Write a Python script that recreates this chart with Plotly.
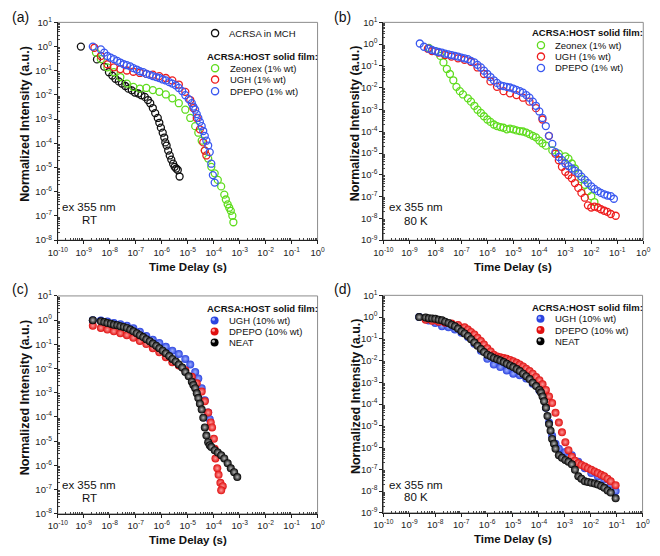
import plotly.graph_objects as go

W, H = 660, 556

# ---------------- data: (log10 time [s], log10 normalized intensity) ----------------
# panel (a)  ex 355 nm, RT
a_mch = [(-9.11, 0.00), (-8.49, -0.53), (-8.21, -0.83), (-8.03, -1.06), (-7.90, -1.20), (-7.78, -1.33),
         (-7.65, -1.44), (-7.53, -1.53), (-7.40, -1.63), (-7.28, -1.74), (-7.15, -1.81), (-7.03, -1.90),
         (-6.90, -1.94), (-6.78, -2.01), (-6.65, -2.08), (-6.53, -2.21), (-6.44, -2.34), (-6.34, -2.54),
         (-6.25, -2.75), (-6.15, -2.95), (-6.09, -3.15), (-6.03, -3.35), (-5.96, -3.56), (-5.90, -3.76),
         (-5.86, -3.96), (-5.81, -4.09), (-5.75, -4.30), (-5.69, -4.50), (-5.63, -4.67), (-5.56, -4.84),
         (-5.50, -4.97), (-5.44, -5.04), (-5.38, -5.10), (-5.31, -5.37)]
a_zeonex = [(-8.53, -0.25), (-8.34, -0.52), (-8.09, -0.86), (-7.84, -1.06), (-7.59, -1.26), (-7.34, -1.53),
            (-7.09, -1.67), (-6.84, -1.74), (-6.59, -1.71), (-6.34, -1.80), (-6.09, -1.87), (-5.84, -1.98),
            (-5.59, -2.14), (-5.34, -2.34), (-5.09, -2.61), (-4.90, -2.95), (-4.71, -3.29), (-4.59, -3.56),
            (-4.46, -3.89), (-4.34, -4.30), (-4.21, -4.63), (-4.09, -4.97), (-3.96, -5.24), (-3.84, -5.51),
            (-3.71, -5.78), (-3.59, -6.12), (-3.53, -6.32), (-3.46, -6.52), (-3.40, -6.66), (-3.34, -6.79),
            (-3.28, -6.99), (-3.24, -7.26)]
a_ugh = [(-8.59, -0.05), (-8.34, -0.39), (-8.09, -0.73), (-7.84, -0.86), (-7.59, -0.93), (-7.34, -0.99),
         (-7.09, -1.04), (-6.84, -1.09), (-6.59, -1.13), (-6.34, -1.16), (-6.09, -1.22), (-5.84, -1.30),
         (-5.59, -1.40), (-5.34, -1.57), (-5.09, -1.87), (-4.90, -2.21), (-4.78, -2.54), (-4.65, -2.95),
         (-4.53, -3.42), (-4.40, -3.96), (-4.34, -4.30), (-4.28, -4.50)]
a_dpepo = [(-8.65, 0.00), (-8.34, -0.12), (-8.21, -0.25), (-8.09, -0.39), (-7.96, -0.46), (-7.84, -0.52),
           (-7.71, -0.59), (-7.59, -0.66), (-7.46, -0.73), (-7.34, -0.77), (-7.21, -0.82), (-7.09, -0.89),
           (-6.96, -0.95), (-6.84, -1.02), (-6.71, -1.06), (-6.59, -1.13), (-6.46, -1.17), (-6.34, -1.22),
           (-6.21, -1.26), (-6.09, -1.30), (-5.96, -1.36), (-5.84, -1.40), (-5.71, -1.47), (-5.59, -1.53),
           (-5.46, -1.60), (-5.34, -1.71), (-5.21, -1.84), (-5.09, -2.01), (-4.96, -2.17), (-4.84, -2.34),
           (-4.78, -2.48), (-4.71, -2.61), (-4.65, -2.79), (-4.59, -2.95), (-4.53, -3.11), (-4.46, -3.29),
           (-4.40, -3.49), (-4.34, -3.69), (-4.28, -3.89), (-4.21, -4.09), (-4.15, -4.36), (-4.09, -4.84),
           (-4.03, -5.31), (-3.96, -5.62)]

# panel (b)  ex 355 nm, 80 K
b_zeonex = [(-8.25, -0.17), (-8.00, -0.32), (-7.81, -0.54), (-7.69, -0.84), (-7.56, -1.14), (-7.44, -1.37),
            (-7.31, -1.66), (-7.19, -1.96), (-7.06, -2.16), (-6.94, -2.31), (-6.75, -2.49), (-6.63, -2.64),
            (-6.50, -2.83), (-6.38, -3.01), (-6.25, -3.16), (-6.13, -3.31), (-6.00, -3.46), (-5.88, -3.57),
            (-5.75, -3.69), (-5.63, -3.76), (-5.50, -3.81), (-5.38, -3.84), (-5.25, -3.91), (-5.13, -3.88),
            (-5.00, -3.91), (-4.88, -3.96), (-4.75, -3.99), (-4.63, -4.01), (-4.50, -4.06), (-4.38, -4.13),
            (-4.25, -4.21), (-4.13, -4.28), (-4.00, -4.43), (-3.88, -4.55), (-3.75, -4.66), (-3.50, -4.88),
            (-3.25, -5.03), (-3.00, -5.15), (-2.88, -5.26), (-2.75, -5.48), (-2.63, -5.71), (-2.50, -5.93),
            (-2.38, -6.20), (-2.25, -6.46), (-2.13, -6.75), (-2.00, -6.98), (-1.88, -7.25)]
b_ugh = [(-8.29, -0.21), (-8.13, -0.32), (-7.88, -0.39), (-7.63, -0.50), (-7.38, -0.57), (-7.13, -0.65),
         (-6.88, -0.72), (-6.63, -0.81), (-6.38, -1.07), (-6.13, -1.37), (-5.88, -1.71), (-5.63, -1.96),
         (-5.38, -2.16), (-5.13, -2.26), (-4.88, -2.34), (-4.63, -2.46), (-4.38, -2.64), (-4.13, -2.94),
         (-3.88, -3.46), (-3.63, -4.21), (-3.38, -5.03), (-3.25, -5.33), (-3.13, -5.63), (-3.00, -5.86),
         (-2.88, -6.01), (-2.75, -6.16), (-2.63, -6.38), (-2.50, -6.60), (-2.38, -6.83), (-2.25, -7.05),
         (-2.13, -7.40), (-2.00, -7.50), (-1.88, -7.46), (-1.75, -7.50), (-1.63, -7.58), (-1.50, -7.65),
         (-1.38, -7.70), (-1.25, -7.80), (-1.06, -7.88)]
b_dpepo = [(-8.60, 0.03), (-8.44, -0.12), (-8.25, -0.21), (-8.13, -0.27), (-8.00, -0.32), (-7.88, -0.36),
           (-7.75, -0.39), (-7.63, -0.44), (-7.50, -0.47), (-7.38, -0.50), (-7.25, -0.54), (-7.13, -0.57),
           (-7.00, -0.62), (-6.88, -0.65), (-6.75, -0.69), (-6.63, -0.77), (-6.50, -0.84), (-6.38, -0.95),
           (-6.25, -1.07), (-6.13, -1.22), (-6.00, -1.37), (-5.88, -1.51), (-5.75, -1.66), (-5.63, -1.78),
           (-5.50, -1.89), (-5.38, -1.93), (-5.25, -1.96), (-5.13, -1.99), (-5.00, -2.04), (-4.88, -2.10),
           (-4.75, -2.16), (-4.63, -2.23), (-4.50, -2.34), (-4.38, -2.46), (-4.25, -2.64), (-4.13, -2.83),
           (-4.00, -3.09), (-3.88, -3.39), (-3.75, -3.76), (-3.63, -4.21), (-3.50, -4.58), (-3.38, -4.96),
           (-3.25, -5.18), (-3.13, -5.33), (-3.00, -5.48), (-2.88, -5.60), (-2.75, -5.71), (-2.63, -5.81),
           (-2.50, -5.93), (-2.38, -6.08), (-2.25, -6.23), (-2.13, -6.38), (-2.00, -6.53), (-1.88, -6.65),
           (-1.75, -6.75), (-1.63, -6.83), (-1.50, -6.90), (-1.38, -6.95), (-1.25, -6.98), (-1.13, -7.10)]

# panel (c)  ex 355 nm, RT, 10% wt films and neat
c_ugh = [(-8.65, 0.00), (-8.34, -0.02), (-8.09, -0.06), (-7.84, -0.12), (-7.59, -0.17), (-7.34, -0.23),
         (-7.09, -0.33), (-6.84, -0.48), (-6.59, -0.66), (-6.34, -0.81), (-6.09, -0.94), (-5.84, -1.10),
         (-5.59, -1.26), (-5.34, -1.40), (-5.09, -1.60), (-4.90, -1.83), (-4.71, -2.14), (-4.59, -2.41),
         (-4.46, -2.81), (-4.34, -3.31), (-4.21, -3.82), (-4.15, -4.09)]
c_dpepo = [(-8.65, -0.23), (-8.34, -0.32), (-8.09, -0.39), (-7.84, -0.46), (-7.59, -0.54), (-7.34, -0.62),
           (-7.09, -0.73), (-6.84, -0.86), (-6.59, -0.99), (-6.34, -1.16), (-6.09, -1.33), (-5.84, -1.53),
           (-5.59, -1.74), (-5.34, -1.87), (-5.09, -2.07), (-4.84, -2.34), (-4.65, -2.61), (-4.46, -2.95),
           (-4.34, -3.35), (-4.21, -3.82), (-4.11, -4.23), (-4.06, -4.43), (-3.99, -4.90), (-3.96, -5.31),
           (-3.93, -5.71), (-3.86, -6.12), (-3.81, -6.39), (-3.74, -6.72), (-3.65, -6.86), (-3.71, -7.03)]
c_neat = [(-8.65, 0.00), (-8.34, -0.05), (-8.21, -0.08), (-8.09, -0.12), (-7.96, -0.15), (-7.84, -0.19),
          (-7.71, -0.21), (-7.59, -0.25), (-7.46, -0.28), (-7.34, -0.32), (-7.21, -0.39), (-7.09, -0.46),
          (-6.96, -0.54), (-6.84, -0.62), (-6.71, -0.70), (-6.59, -0.79), (-6.46, -0.87), (-6.34, -0.97),
          (-6.21, -1.06), (-6.09, -1.16), (-5.96, -1.26), (-5.84, -1.37), (-5.71, -1.48), (-5.59, -1.60),
          (-5.46, -1.71), (-5.34, -1.83), (-5.21, -1.96), (-5.09, -2.14), (-4.96, -2.32), (-4.84, -2.54),
          (-4.78, -2.68), (-4.71, -2.81), (-4.65, -3.02), (-4.59, -3.22), (-4.53, -3.45), (-4.46, -3.69),
          (-4.40, -4.03), (-4.34, -4.43), (-4.28, -4.77), (-4.21, -5.04), (-4.15, -5.17), (-4.09, -5.24),
          (-3.96, -5.37), (-3.84, -5.47), (-3.71, -5.58), (-3.59, -5.71), (-3.46, -5.91), (-3.34, -6.12),
          (-3.21, -6.28), (-3.09, -6.48)]

# panel (d)  ex 355 nm, 80 K, 10% wt films and neat
d_ugh = [(-8.62, 0.00), (-8.25, -0.16), (-8.00, -0.27), (-7.74, -0.42), (-7.49, -0.47), (-7.24, -0.57),
         (-6.99, -0.72), (-6.74, -0.92), (-6.49, -1.22), (-6.24, -1.55), (-5.99, -1.92), (-5.74, -2.18),
         (-5.49, -2.30), (-5.24, -2.45), (-4.99, -2.60), (-4.74, -2.67), (-4.49, -2.82), (-4.24, -3.07),
         (-3.98, -3.37), (-3.73, -4.17), (-3.61, -4.85), (-3.49, -5.45), (-3.36, -5.82), (-3.23, -6.05),
         (-2.98, -6.20), (-2.73, -6.35), (-2.48, -6.65), (-2.23, -6.95), (-1.98, -7.17), (-1.73, -7.32),
         (-1.48, -7.47), (-1.23, -7.70), (-1.04, -8.00)]
d_dpepo = [(-8.37, -0.12), (-8.12, -0.17), (-7.87, -0.21), (-7.62, -0.26), (-7.37, -0.30), (-7.12, -0.36),
           (-6.87, -0.47), (-6.74, -0.57), (-6.62, -0.68), (-6.49, -0.80), (-6.37, -0.95), (-6.24, -1.10),
           (-6.12, -1.26), (-5.99, -1.43), (-5.86, -1.58), (-5.74, -1.73), (-5.61, -1.81), (-5.49, -1.85),
           (-5.36, -1.88), (-5.24, -1.92), (-5.11, -1.97), (-4.99, -2.03), (-4.86, -2.10), (-4.74, -2.18),
           (-4.61, -2.27), (-4.49, -2.37), (-4.36, -2.48), (-4.24, -2.60), (-4.11, -2.75), (-3.98, -2.90),
           (-3.86, -3.09), (-3.73, -3.35), (-3.61, -3.65), (-3.49, -3.95), (-3.36, -4.40), (-3.23, -4.85),
           (-3.11, -5.30), (-2.98, -5.75), (-2.86, -6.12), (-2.73, -6.42), (-2.61, -6.60), (-2.48, -6.72),
           (-2.36, -6.80), (-2.23, -6.87), (-2.11, -6.95), (-1.98, -7.02), (-1.85, -7.10), (-1.73, -7.17),
           (-1.60, -7.25), (-1.48, -7.32), (-1.35, -7.43), (-1.23, -7.55), (-1.04, -7.73)]
d_neat = [(-8.62, 0.00), (-8.37, -0.02), (-8.25, -0.05), (-8.12, -0.06), (-8.00, -0.08), (-7.87, -0.12),
          (-7.74, -0.15), (-7.62, -0.21), (-7.49, -0.27), (-7.37, -0.35), (-7.24, -0.42), (-7.12, -0.53),
          (-6.99, -0.65), (-6.87, -0.75), (-6.74, -0.87), (-6.62, -1.02), (-6.49, -1.17), (-6.37, -1.32),
          (-6.24, -1.47), (-6.12, -1.61), (-5.99, -1.73), (-5.86, -1.80), (-5.74, -1.88), (-5.61, -1.94),
          (-5.49, -2.00), (-5.36, -2.07), (-5.24, -2.15), (-5.11, -2.22), (-4.99, -2.30), (-4.86, -2.39),
          (-4.74, -2.48), (-4.61, -2.60), (-4.49, -2.72), (-4.36, -2.85), (-4.24, -3.02), (-4.11, -3.17),
          (-3.98, -3.35), (-3.92, -3.47), (-3.86, -3.65), (-3.80, -3.87), (-3.73, -4.17), (-3.67, -4.55),
          (-3.61, -4.92), (-3.55, -5.22), (-3.49, -5.60), (-3.42, -5.82), (-3.36, -6.05), (-3.23, -6.35),
          (-3.11, -6.47), (-2.98, -6.57), (-2.86, -6.65), (-2.73, -6.77), (-2.61, -7.02), (-2.48, -7.32),
          (-2.36, -7.43), (-2.23, -7.55), (-2.11, -7.58), (-1.98, -7.62), (-1.85, -7.65), (-1.73, -7.70),
          (-1.60, -7.77), (-1.48, -7.85), (-1.35, -7.97), (-1.23, -8.07), (-1.04, -8.33)]

# tick exponents
x_exps = list(range(-10, 1))
y_exps_ac = list(range(-8, 2))
y_exps_bd = list(range(-9, 2))

# ---------------- styling ----------------
GREEN = "#5fdc1e"
RED = "#ee1c1c"
BLUE = "#3a58f0"
BLACK = "#111111"
FONT = "Liberation Sans"


def px(x):
    return x / W


def py(y):
    return 1 - y / H


def unzip(pairs):
    return [10 ** p[0] for p in pairs], [10 ** p[1] for p in pairs]


fig = go.Figure()


def open_trace(pairs, color, ax):
    t, v = unzip(pairs)
    fig.add_trace(go.Scatter(x=t, y=v, mode="markers", xaxis="x" + ax, yaxis="y" + ax, showlegend=False,
                             marker=dict(symbol="circle-open", size=7, color=color, line=dict(width=1.3, color=color))))


def ball_trace(pairs, color, center, ax):
    t, v = unzip(pairs)
    fig.add_trace(go.Scatter(x=t, y=v, mode="markers", xaxis="x" + ax, yaxis="y" + ax, showlegend=False,
                             marker=dict(symbol="circle", size=8, color=color,
                                         gradient=dict(type="radial", color=center),
                                         line=dict(width=0))))


open_trace(a_mch, BLACK, "")
open_trace(a_zeonex, GREEN, "")
open_trace(a_ugh, RED, "")
open_trace(a_dpepo, BLUE, "")

open_trace(b_zeonex, GREEN, "2")
open_trace(b_ugh, RED, "2")
open_trace(b_dpepo, BLUE, "2")

ball_trace(c_ugh, "#2b44e0", "#9fb0ff", "3")
ball_trace(c_dpepo, "#e01010", "#ff9a9a", "3")
ball_trace(c_neat, "#000000", "#b8b8b8", "3")

ball_trace(d_ugh, "#2b44e0", "#9fb0ff", "4")
ball_trace(d_dpepo, "#e01010", "#ff9a9a", "4")
ball_trace(d_neat, "#000000", "#b8b8b8", "4")

# panel geometry in pixels: (left, right, top, bottom)
panels = {
    "": (49.0, 315.7, 15.7, 238.3, y_exps_ac),
    "2": (383.3, 650.0, 15.7, 238.3, y_exps_bd),
    "3": (49.0, 315.7, 295.3, 518.0, y_exps_ac),
    "4": (383.3, 649.3, 294.7, 517.0, y_exps_bd),
}

tickfont = dict(family=FONT, size=9.5, color="#222")
layout = {}
shapes = []
for ax, (l, r, t, b, yexps) in panels.items():
    layout["xaxis" + ax] = dict(
        type="log", range=[x_exps[0], x_exps[-1]], domain=[px(l), px(r)], anchor="y" + ax,
        tickmode="array", tickvals=[10.0 ** e for e in x_exps],
        ticktext=["10<sup>%d</sup>" % e for e in x_exps],
        ticks="outside", ticklen=3, tickwidth=1, tickcolor="#222",
        showline=True, linecolor="#222", linewidth=1, showgrid=False, zeroline=False,
        tickfont=tickfont,
        minor=dict(tickvals=[m * 10.0 ** e for e in x_exps[:-1] for m in range(2, 10)],
                   ticks="inside", ticklen=2, tickcolor="#444", tickwidth=0.8, showgrid=False),
    )
    layout["yaxis" + ax] = dict(
        type="log", range=[yexps[0], yexps[-1]], domain=[py(b), py(t)], anchor="x" + ax,
        tickmode="array", tickvals=[10.0 ** e for e in yexps],
        ticktext=["10<sup>%d</sup>" % e for e in yexps],
        ticks="outside", ticklen=3, tickwidth=1, tickcolor="#222",
        showline=True, linecolor="#222", linewidth=1, showgrid=False, zeroline=False,
        tickfont=tickfont,
        minor=dict(tickvals=[m * 10.0 ** e for e in yexps[:-1] for m in range(2, 10)],
                   ticks="inside", ticklen=2, tickcolor="#444", tickwidth=0.8, showgrid=False),
    )
    shapes.append(dict(type="rect", xref="x%s domain" % ax, yref="y%s domain" % ax,
                       x0=0, x1=1, y0=0, y1=1, line=dict(color="#8c8c8c", width=1), layer="below"))

annotations = []


def text(x, y, s, size, anchor="left", angle=0):
    annotations.append(dict(x=px(x), y=py(y), xref="paper", yref="paper", text=s, showarrow=False,
                            xanchor=anchor, yanchor="middle", textangle=angle,
                            font=dict(family=FONT, size=size, color="#111")))


def open_sym(cx, cy, color):
    shapes.append(dict(type="circle", xref="paper", yref="paper", xsizemode="pixel", ysizemode="pixel",
                       xanchor=px(cx), yanchor=py(cy), x0=-3.6, x1=3.6, y0=-3.6, y1=3.6,
                       line=dict(color=color, width=1.3), fillcolor="rgba(0,0,0,0)"))


def ball_sym(cx, cy, color, hl):
    shapes.append(dict(type="circle", xref="paper", yref="paper", xsizemode="pixel", ysizemode="pixel",
                       xanchor=px(cx), yanchor=py(cy), x0=-4, x1=4, y0=-4, y1=4,
                       line=dict(width=0), fillcolor=color))
    shapes.append(dict(type="circle", xref="paper", yref="paper", xsizemode="pixel", ysizemode="pixel",
                       xanchor=px(cx), yanchor=py(cy), x0=-2.6, x1=0.4, y0=-0.4, y1=2.6,
                       line=dict(width=0), fillcolor=hl))


HEADER = "<b>ACRSA:HOST solid film:</b>"

# panel labels
for lx, ly, lab in [(0, 10, "(a)"), (330, 10, "(b)"), (0, 288, "(c)"), (330, 288, "(d)")]:
    text(lx, ly, lab, 14)

# axis titles
for (l, r, t, b, _), yx in zip(panels.values(), [15.7, 355.0, 15.7, 355.0]):
    text((l + r) / 2, b + 27, "<b>Time Delay (s)</b>", 11.5, anchor="center")
    text(yx, (t + b) / 2 - 8, "<b>Normalized Intensity (a.u.)</b>", 12.5, anchor="center", angle=-90)

# condition labels
text(81.6, 204, "ex 355 nm", 11.5, anchor="center")
text(81.6, 218, "RT", 11.5, anchor="center")
text(416.8, 204, "ex 355 nm", 11.5, anchor="center")
text(416.8, 218.3, "80 K", 11.5, anchor="center")
text(81.6, 488.7, "ex 355 nm", 11.5, anchor="center")
text(81.6, 502, "RT", 11.5, anchor="center")
text(417.2, 488.7, "ex 355 nm", 11.5, anchor="center")
text(417.2, 501.3, "80 K", 11.5, anchor="center")

# legend (a)
open_sym(210.5, 26.7, BLACK)
text(222.8, 26.7, "ACRSA in MCH", 9.5)
text(200, 51, HEADER, 9.5)
for yy, col, lab in [(62.5, GREEN, "Zeonex (1% wt)"), (74.2, RED, "UGH (1% wt)"), (86, BLUE, "DPEPO (1% wt)")]:
    open_sym(210.5, yy, col)
    text(223.5, yy, lab, 9.5)

# legend (b)
text(534, 26, HEADER, 9.5)
for yy, col, lab in [(39, GREEN, "Zeonex (1% wt)"), (50.7, RED, "UGH (1% wt)"), (62.3, BLUE, "DPEPO (1% wt)")]:
    open_sym(545, yy, col)
    text(557, yy, lab, 9.5)

# legend (c)
text(200, 308, HEADER, 9.5)
for yy, col, hl, lab in [(320.3, "#2b44e0", "#9fb0ff", "UGH (10% wt)"), (331.6, "#e01010", "#ff9a9a", "DPEPO (10% wt)"),
                         (342.8, "#000000", "#b8b8b8", "NEAT")]:
    ball_sym(210, yy, col, hl)
    text(223, yy, lab, 9.5)

# legend (d)
text(534, 307, HEADER, 9.5)
for yy, col, hl, lab in [(318.7, "#2b44e0", "#9fb0ff", "UGH (10% wt)"), (330.2, "#e01010", "#ff9a9a", "DPEPO (10% wt)"),
                         (341.5, "#000000", "#b8b8b8", "NEAT")]:
    ball_sym(544.5, yy, col, hl)
    text(557, yy, lab, 9.5)

fig.update_layout(width=W, height=H, margin=dict(l=0, r=0, t=0, b=0), paper_bgcolor="white",
                  plot_bgcolor="white", showlegend=False, shapes=shapes, annotations=annotations,
                  font=dict(family=FONT), **layout)

fig.write_html("out.html", config={"displayModeBar": False},
               post_script="document.body.style.margin='0px';document.body.style.padding='0px';")
